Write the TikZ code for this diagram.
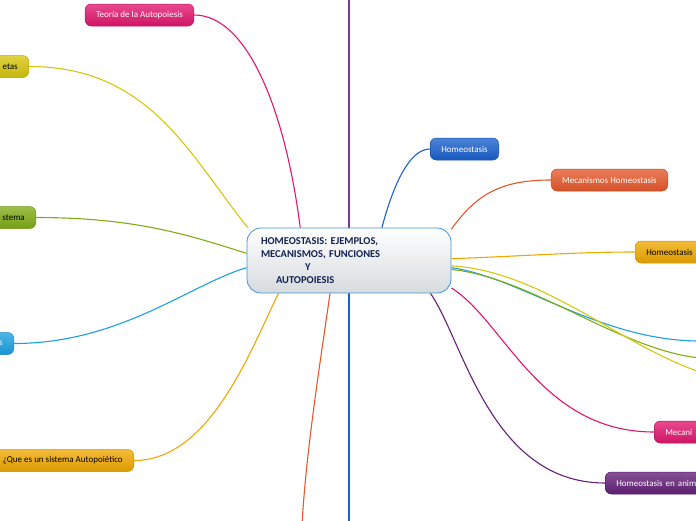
\documentclass[tikz,border=0pt]{standalone}
\usepackage{fontspec}
\setmainfont{Carlito}
\usetikzlibrary{arrows.meta}
\definecolor{pinkc}{RGB}{226,22,110}
\definecolor{yelc}{RGB}{214,198,12}
\definecolor{greenc}{RGB}{128,172,22}
\definecolor{skyc}{RGB}{28,160,226}
\definecolor{amberc}{RGB}{240,168,0}
\definecolor{bluec}{RGB}{26,96,206}
\definecolor{redc}{RGB}{230,88,44}
\definecolor{purplec}{RGB}{100,32,120}
\definecolor{vioc}{RGB}{118,58,148}
\definecolor{rimc}{RGB}{66,148,214}
\definecolor{inkc}{RGB}{20,34,82}
\definecolor{fogc}{RGB}{214,219,222}
\pgfdeclarelayer{bg}
\pgfsetlayers{bg,main}
\tikzset{
  branch/.style={rounded corners=6pt, minimum height=22pt, inner xsep=11pt, inner ysep=0pt,
    font=\fontsize{9}{10}\selectfont, draw=#1!85!black, line width=0.5pt,
    top color=#1!78!white, bottom color=#1!92!black},
  link/.style={draw=#1, line width=1.1pt},
  twig/.style={draw=skyc!55!white, line width=0.6pt}
}

\begin{document}
\begin{tikzpicture}[x=1pt,y=-1pt]
\useasboundingbox (0,0) rectangle (696,520);
\node[draw=rimc, line width=0.8pt, rounded corners=14pt, top color=white, bottom color=fogc,
  minimum height=65pt, text width=176pt, inner xsep=14pt, inner ysep=0pt, align=left,
  text=inkc, font=\bfseries\fontsize{10.5}{13}\selectfont] (center) at (349,260.5)
  {HOMEOSTASIS: EJEMPLOS,\\ MECANISMOS, FUNCIONES\\ \hspace*{44pt}Y\\ \hspace*{15pt}AUTOPOIESIS};

\node[branch=pinkc, text=white] (teoria) at (139.5,15) {Teoría de la Autopoiesis};
\node[branch=yelc, anchor=east, text width=60pt, align=right] (metas) at (29,66.5) {etas};
\node[branch=greenc, anchor=east, text width=60pt, align=right] (sistema) at (36,217.5) {stema};
\node[branch=skyc, text=white, anchor=east, text width=60pt, align=right] (azul) at (14,343.5) {s};
\node[branch=amberc, anchor=east] (quees) at (134,460.5) {¿Que es un sistema Autopoiético};

\node[branch=bluec, text=white] (homeo) at (464.5,149) {Homeostasis};
\node[branch=redc, text=white] (mecan) at (609.5,180) {Mecanismos Homeostasis};
\node[branch=amberc, anchor=west, text width=80pt, align=left] (homeoR) at (635,252) {Homeostasis};
\node[branch=pinkc, text=white, anchor=west, text width=80pt, align=left] (mecaniR) at (654,432) {Mecani};
\node[branch=purplec, text=white, anchor=west, text width=100pt, align=left] (animales) at (605,483) {Homeostasis en anim};

\coordinate (ptop) at (349,-5);
\coordinate (pbot) at (349,525);
\coordinate (pdown) at (302,525);
\coordinate (exsky) at (700,341);
\coordinate (exgreen) at (700,358);
\coordinate (exyel) at (700,372);
\coordinate (sub1) at (-2,396);
\coordinate (sub2) at (-2,380);

\begin{pgfonlayer}{bg}
\draw[link=vioc] (ptop) -- (center.north);
\draw[link=bluec] (center.south) -- (pbot);
\draw[link=pinkc] (center.146) .. controls +(-15,-118) and +(53,0) .. (teoria.east);
\draw[link=yelc] (center.162) .. controls +(-58,-72) and +(121,0) .. (metas.east);
\draw[link=greenc] (center.176) .. controls +(-57,-18) and +(100,0) .. (sistema.east);
\draw[link=skyc] (center.184) .. controls +(-57,17) and +(106,0) .. (azul.east);
\draw[link=amberc] (center.205) .. controls +(-28,57) and +(76,0) .. (quees.east);
\draw[link=redc] (center.240) .. controls +(-8,57) and +(4,-75) .. (pdown);
\draw[link=purplec] (center.338) .. controls +(33,47) and +(-115,0) .. (animales.west);
\draw[link=pinkc] (center.345) .. controls +(53,33) and +(-114,0) .. (mecaniR.west);
\draw[link=skyc] (center.356) .. controls +(70,10) and +(-100,0) .. (exsky);
\draw[link=greenc] (center.355) .. controls +(80,8) and +(-80,-8) .. (exgreen);
\draw[link=yelc] (center.357) .. controls +(90,5) and +(-80,-27) .. (exyel);
\draw[link=amberc] (center.1) .. controls +(80,-3) and +(-60,0) .. (homeoR.west);
\draw[link=redc] (center.17) .. controls +(25,-35) and +(-50,0) .. (mecan.west);
\draw[link=bluec] (center.45) .. controls +(12,-45) and +(-20,0) .. (homeo.west);
\draw[twig] (azul.-75) .. controls +(0,20) and +(6,-12) .. (sub1);
\draw[twig] (azul.-60) .. controls +(-2,14) and +(4,-8) .. (sub2);
\end{pgfonlayer}
\end{tikzpicture}
\end{document}
